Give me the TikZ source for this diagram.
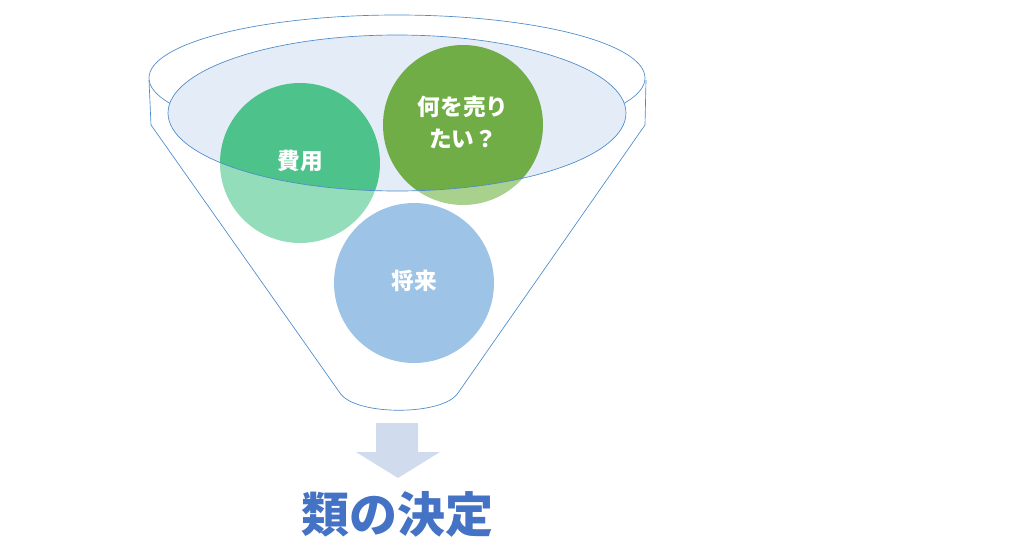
\documentclass[tikz,border=0pt]{standalone}
\usepackage{fontspec}
\newfontfamily\cjk{Noto Sans CJK JP}
\begin{document}
\begin{tikzpicture}[x=0.75pt,y=-0.75pt,
  lbl/.style={text=white,font=\cjk\bfseries\fontsize{17}{24}\selectfont,align=center},
  edge/.style={draw=blue!50!cyan!70!black!70,line width=0.5pt}]
\useasboundingbox (0,0) rectangle (1011,550);
% outer funnel
\draw[edge] (397,78) ellipse [x radius=248,y radius=63];
\draw[edge] (149,80) -- (151,125) -- (340,393) .. controls (355,416) and (443,416) .. (458,393) -- (645,125) -- (646,80);
% circles light
\fill[fill={rgb,255:red,147;green,221;blue,187}] (300,163) circle [radius=80];
\fill[fill={rgb,255:red,169;green,209;blue,142}] (463,125) circle [radius=80];
\fill[fill={rgb,255:red,157;green,195;blue,230}] (414,283) circle [radius=80];
% ellipse
\fill[fill={rgb,255:red,228;green,236;blue,247}] (397,113) ellipse [x radius=229,y radius=78];
\begin{scope}
\clip (397,113) ellipse [x radius=229,y radius=78];
\fill[fill={rgb,255:red,77;green,195;blue,139}] (300,163) circle [radius=80];
\fill[fill={rgb,255:red,112;green,173;blue,71}] (463,125) circle [radius=80];
\end{scope}
\draw[edge] (397,113) ellipse [x radius=229,y radius=78];
\node[lbl] (a) at (300,161) {費用};
\node[lbl] (b) at (463,122) {何を売り\\たい？};
\node[lbl] (c) at (414,281) {将来};
% arrow
\fill[fill={rgb,255:red,208;green,220;blue,238}] (376,423) -- (418,423) -- (418,452) -- (440,452) -- (398,478) -- (356,452) -- (376,452) -- cycle;
\node[text={rgb,255:red,68;green,114;blue,196},font=\cjk\bfseries\fontsize{36}{40}\selectfont] (t) at (397,514) {類の決定};
\end{tikzpicture}
\end{document}
